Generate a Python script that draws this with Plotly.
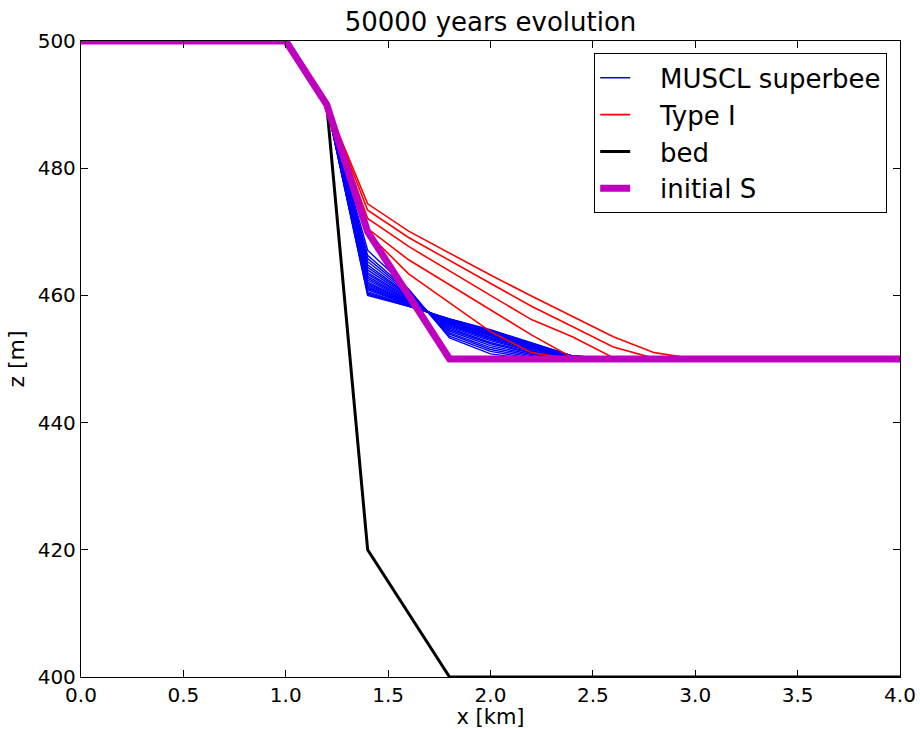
import plotly.graph_objects as go

# ---- data ----
x_nodes = [0.0, 1.0, 1.2, 1.4, 1.6, 1.8, 2.0, 2.2, 2.4, 2.6, 2.8, 3.0, 4.0]
upstream_z = [500, 500, 490]      # values at x = 0.0, 1.0, 1.2
downstream_z = 450                # flat surface further downstream

# MUSCL superbee profiles: values at x = 1.4, 1.6, 1.8, 2.0, 2.2, 2.4
muscl_rows = [
    [467.1, 461.0, 453.3, 450.8, 450.0, 450.0],
    [466.3, 460.7, 453.6, 451.2, 450.1, 450.0],
    [465.8, 460.5, 453.9, 451.5, 450.3, 450.0],
    [465.3, 460.3, 454.1, 451.8, 450.5, 450.0],
    [464.8, 460.1, 454.4, 452.1, 450.7, 450.0],
    [464.4, 460.0, 454.6, 452.4, 450.9, 450.0],
    [464.0, 459.8, 454.8, 452.6, 451.0, 450.1],
    [463.6, 459.6, 455.0, 452.9, 451.2, 450.1],
    [463.3, 459.5, 455.2, 453.1, 451.3, 450.1],
    [463.0, 459.3, 455.3, 453.3, 451.5, 450.2],
    [462.7, 459.2, 455.5, 453.4, 451.6, 450.2],
    [462.4, 459.1, 455.6, 453.6, 451.7, 450.2],
    [462.1, 459.0, 455.7, 453.7, 451.8, 450.3],
    [461.9, 458.9, 455.8, 453.8, 451.9, 450.3],
    [461.7, 458.8, 455.9, 453.9, 452.0, 450.3],
    [461.5, 458.7, 456.0, 454.0, 452.1, 450.3],
    [461.3, 458.6, 456.0, 454.1, 452.1, 450.4],
    [461.1, 458.6, 456.1, 454.2, 452.2, 450.4],
    [460.9, 458.5, 456.1, 454.3, 452.3, 450.4],
    [460.6, 458.4, 456.2, 454.4, 452.4, 450.4],
    [460.4, 458.4, 456.2, 454.5, 452.4, 450.5],
    [460.2, 458.3, 456.3, 454.5, 452.5, 450.5],
    [460.0, 458.3, 456.3, 454.6, 452.5, 450.5],
]

# Type I profiles: values at x = 1.4, 1.6, 1.8, 2.0, 2.2, 2.4, 2.6, 2.8, 3.0
type1_rows = [
    [470.0, 460.0, 450.0, 450.0, 450.0, 450.0, 450.0, 450.0, 450.0],
    [469.8, 463.4, 458.9, 454.3, 451.0, 450.0, 450.0, 450.0, 450.0],
    [470.5, 465.6, 461.7, 457.7, 453.8, 450.2, 450.0, 450.0, 450.0],
    [472.1, 467.7, 463.8, 460.0, 456.2, 453.5, 450.2, 450.0, 450.0],
    [473.4, 469.1, 465.5, 461.9, 458.3, 455.1, 451.9, 450.1, 450.0],
    [474.4, 470.1, 466.6, 463.2, 459.9, 456.7, 453.5, 451.0, 450.0],
]

bed_x = [0.0, 1.0, 1.2, 1.4, 1.8, 4.0]
bed_z = [500, 500, 490, 420, 400, 400]

init_x = [0.0, 1.0, 1.2, 1.4, 1.6, 1.8, 4.0]
init_z = [500, 500, 490, 470, 460, 450, 450]

x_ticks = [0.0, 0.5, 1.0, 1.5, 2.0, 2.5, 3.0, 3.5, 4.0]
y_ticks = [400, 420, 440, 460, 480, 500]


def full_profile(row):
    n_rest = len(x_nodes) - len(upstream_z) - len(row)
    return upstream_z + list(row) + [downstream_z] * n_rest


FONT = "DejaVu Sans"
PAD = "\u00a0\u00a0\u00a0"
fig = go.Figure()

for i, row in enumerate(muscl_rows):
    fig.add_trace(go.Scatter(
        x=x_nodes, y=full_profile(row), mode="lines",
        line=dict(color="#0000ff", width=1.4),
        name=PAD + "MUSCL superbee", legendgroup="muscl",
        showlegend=(i == 0), hoverinfo="skip"))

for i, row in enumerate(type1_rows):
    fig.add_trace(go.Scatter(
        x=x_nodes, y=full_profile(row), mode="lines",
        line=dict(color="#ff0000", width=1.6),
        name=PAD + "Type I", legendgroup="type1",
        showlegend=(i == 0), hoverinfo="skip"))

fig.add_trace(go.Scatter(
    x=bed_x, y=bed_z, mode="lines",
    line=dict(color="#000000", width=3),
    name=PAD + "bed", legendgroup="bed"))

fig.add_trace(go.Scatter(
    x=init_x, y=init_z, mode="lines",
    line=dict(color="#bf00bf", width=7),
    name=PAD + "initial S", legendgroup="init"))

axis_common = dict(
    showline=True, linecolor="black", linewidth=1.3, mirror="allticks",
    ticks="inside", ticklen=7, tickwidth=1, tickcolor="black",
    showgrid=False, zeroline=False, automargin=False,
    tickfont=dict(family=FONT, size=20, color="black"),
)

fig.update_xaxes(range=[0, 4], tickvals=x_ticks, tickformat=".1f",
                 title=dict(text="x [km]", font=dict(family=FONT, size=21, color="black"), standoff=6),
                 **axis_common)
fig.update_yaxes(range=[400, 500], tickvals=y_ticks,
                 title=dict(text="z [m]", font=dict(family=FONT, size=22, color="black"), standoff=6),
                 **axis_common)

fig.update_layout(
    width=920, height=729,
    margin=dict(l=81, r=20, t=41, b=52),
    plot_bgcolor="white", paper_bgcolor="white",
    font=dict(family=FONT, color="black"),
    title=dict(text="50000 years evolution", x=0.5, xref="paper", xanchor="center",
               y=1 - 22 / 729, yref="container", yanchor="middle",
               font=dict(family=FONT, size=26, color="black")),
    legend=dict(x=0.984, y=0.981, xanchor="right", yanchor="top",
                bordercolor="black", borderwidth=1.3, bgcolor="white",
                font=dict(family=FONT, size=26, color="black"),
                traceorder="grouped", tracegroupgap=0),
    showlegend=True,
)

fig.write_html("out.html")
